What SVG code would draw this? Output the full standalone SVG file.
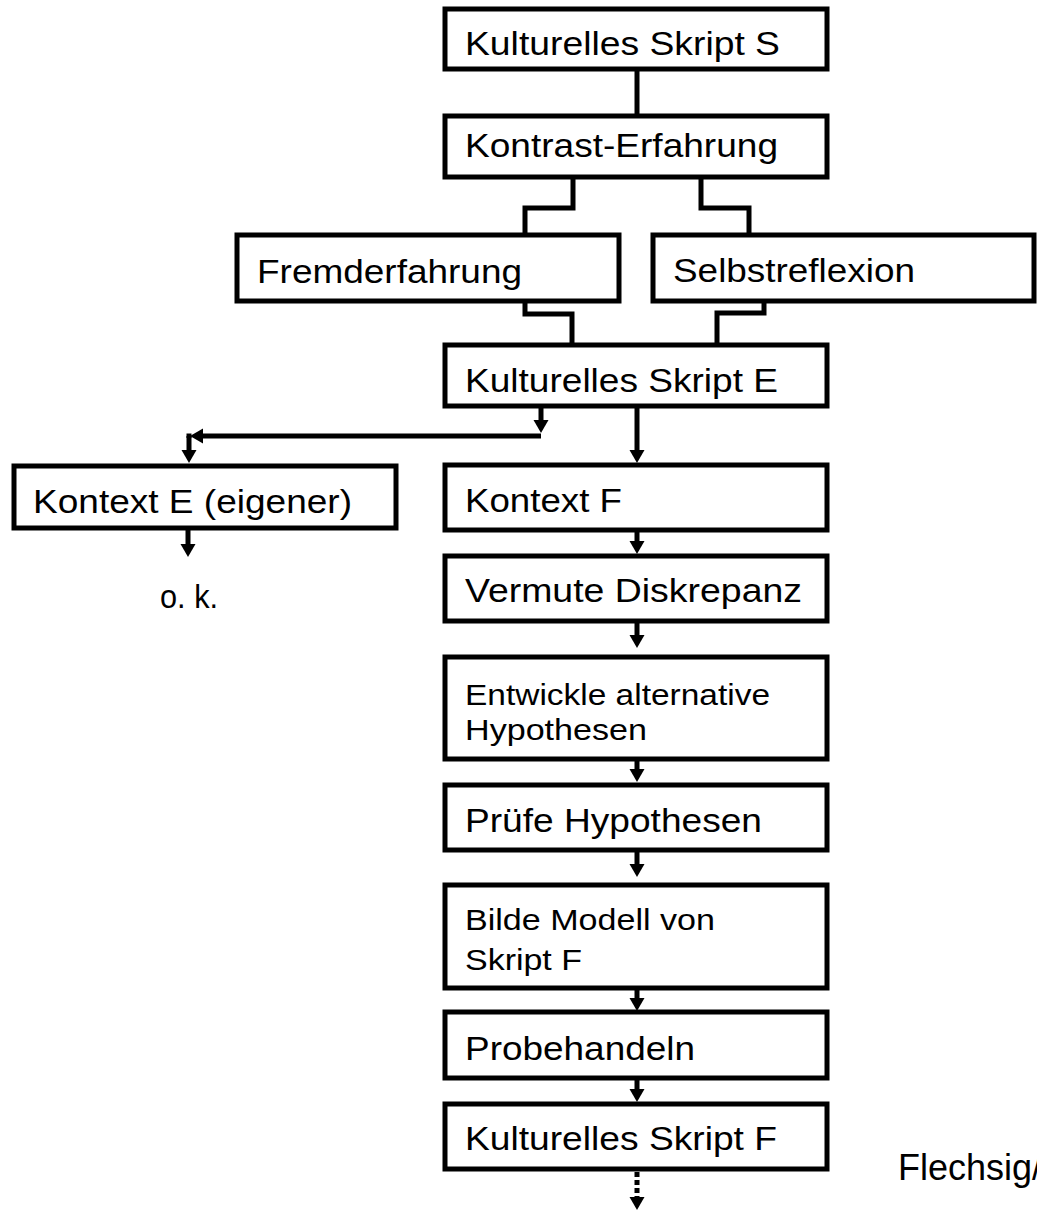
<svg xmlns="http://www.w3.org/2000/svg" width="1037" height="1211" viewBox="0 0 1037 1211">
<style>
.box{fill:#fff;stroke:#000;stroke-width:5}
.t{font-family:"Liberation Sans",Arial,sans-serif;font-size:33px;fill:#000}
.s{font-size:30px}
.ln{fill:none;stroke:#000;stroke-width:5}
.ar{fill:none;stroke:#000;stroke-width:5;marker-end:url(#ah)}
.dash{stroke-dasharray:5,3}
</style>
<defs>
<marker id="ah" markerUnits="userSpaceOnUse" markerWidth="16" markerHeight="16" refX="1" refY="7.5" orient="auto">
<path d="M0,0 L13,7.5 L0,15 Z" fill="#000"/>
</marker>
</defs>
<rect width="1037" height="1211" fill="#fff"/>
<g id="connectors">
<path class="ln" d="M637,71 V115"/>
<path class="ln" d="M573,179 V208 H525 V236"/>
<path class="ln" d="M701,179 V208 H749 V236"/>
<path class="ln" d="M525,302 V314 H572 V346"/>
<path class="ln" d="M764,302 V313 H717 V346"/>
<path class="ar" d="M541,408 V421"/>
<path class="ar" d="M541,436 H202"/>
<path class="ln" d="M189,433.5 V438"/>
<path class="ar" d="M189,436 V451"/>
<path class="ar" d="M637,408 V451"/>
<path class="ar" d="M188,530 V545"/>
<path class="ar" d="M637,531 V542"/>
<path class="ar" d="M637,622 V636"/>
<path class="ar" d="M637,760 V770"/>
<path class="ar" d="M637,851 V865"/>
<path class="ar" d="M637,989 V999"/>
<path class="ar" d="M637,1079 V1090"/>
<path class="ar dash" d="M637,1172 V1198"/>
</g>
<g id="n-skript-s"><rect class="box" x="445" y="9" width="382" height="60"/><text class="t" x="465" y="55" textLength="315" lengthAdjust="spacingAndGlyphs">Kulturelles Skript S</text></g>
<g id="n-kontrast"><rect class="box" x="445" y="116" width="382" height="61"/><text class="t" x="465" y="157" textLength="313" lengthAdjust="spacingAndGlyphs">Kontrast-Erfahrung</text></g>
<g id="n-fremd"><rect class="box" x="237" y="235" width="382" height="66"/><text class="t" x="257" y="283" textLength="265" lengthAdjust="spacingAndGlyphs">Fremderfahrung</text></g>
<g id="n-selbst"><rect class="box" x="653" y="235" width="381" height="66"/><text class="t" x="673" y="282" textLength="242" lengthAdjust="spacingAndGlyphs">Selbstreflexion</text></g>
<g id="n-skript-e"><rect class="box" x="445" y="345" width="382" height="61"/><text class="t" x="465" y="392" textLength="313" lengthAdjust="spacingAndGlyphs">Kulturelles Skript E</text></g>
<g id="n-kontext-e"><rect class="box" x="14" y="466" width="382" height="62"/><text class="t" x="33" y="513" textLength="319" lengthAdjust="spacingAndGlyphs">Kontext E (eigener)</text></g>
<g id="n-ok"><text class="t" x="160" y="608" textLength="58" lengthAdjust="spacingAndGlyphs">o. k.</text></g>
<g id="n-kontext-f"><rect class="box" x="445" y="465" width="382" height="65"/><text class="t" x="465" y="512" textLength="157" lengthAdjust="spacingAndGlyphs">Kontext F</text></g>
<g id="n-vermute"><rect class="box" x="445" y="556" width="382" height="65"/><text class="t" x="465" y="602" textLength="337" lengthAdjust="spacingAndGlyphs">Vermute Diskrepanz</text></g>
<g id="n-entwickle"><rect class="box" x="445" y="657" width="382" height="102"/><text class="t s" x="465" y="705" textLength="305" lengthAdjust="spacingAndGlyphs">Entwickle alternative</text><text class="t s" x="465" y="740" textLength="182" lengthAdjust="spacingAndGlyphs">Hypothesen</text></g>
<g id="n-pruefe"><rect class="box" x="445" y="785" width="382" height="65"/><text class="t" x="465" y="832" textLength="297" lengthAdjust="spacingAndGlyphs">Prüfe Hypothesen</text></g>
<g id="n-bilde"><rect class="box" x="445" y="885" width="382" height="103"/><text class="t s" x="465" y="930" textLength="250" lengthAdjust="spacingAndGlyphs">Bilde Modell von</text><text class="t s" x="465" y="970" textLength="117" lengthAdjust="spacingAndGlyphs">Skript F</text></g>
<g id="n-probe"><rect class="box" x="445" y="1012" width="382" height="66"/><text class="t" x="465" y="1060" textLength="230" lengthAdjust="spacingAndGlyphs">Probehandeln</text></g>
<g id="n-skript-f"><rect class="box" x="445" y="1104" width="382" height="65"/><text class="t" x="465" y="1150" textLength="312" lengthAdjust="spacingAndGlyphs">Kulturelles Skript F</text></g>
<g id="n-source"><text class="t" x="898" y="1180" style="font-size:36px">Flechsig/</text></g>
</svg>
